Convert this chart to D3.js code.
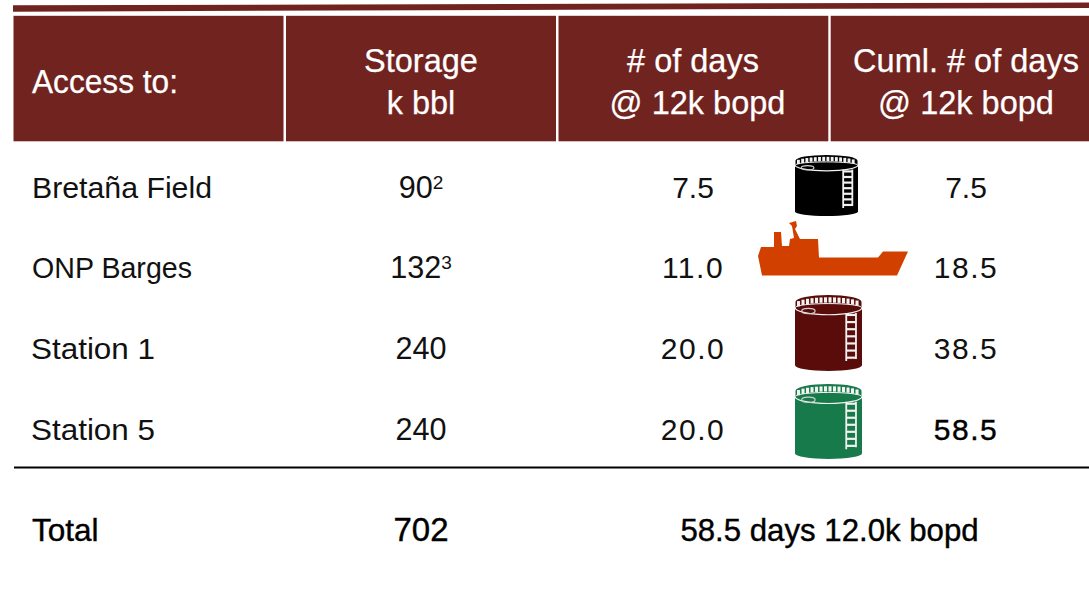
<!DOCTYPE html>
<html><head><meta charset="utf-8">
<script src="https://cdn.jsdelivr.net/npm/d3@7"></script>
<style>html,body{margin:0;background:#fff}svg{display:block}text{font-family:"Liberation Sans",sans-serif}</style>
</head><body><svg id="c" width="1089" height="589"></svg>
<script>
const headers = [["Access to:"],["Storage","k bbl"],["# of days","@ 12k bopd"],["Cuml. # of days","@ 12k bopd"]];
const fields = ["Bretaña Field","ONP Barges","Station 1","Station 5"];
const storage = [90,132,240,240];
const storageNotes = ["2","3","",""];
const days = ["7.5","11.0","20.0","20.0"];
const cumulative = ["7.5","18.5","38.5","58.5"];
const icons = ["tank","ship","tank","tank"];
const iconColors = ["#000000","#d24000","#5a0c0a","#177a4a"];
const totalLabel = "Total", totalStorage = "702", totalNote = "58.5 days 12.0k bopd";

const MAROON = "#712320";
const svg = d3.select("#c");
const W = 1089;
const y = d3.scalePoint().domain(fields).range([188,430]);
const colCenter = [0,421,693,966];
const headEdges = [[13.5,283.5],[286,556],[558.5,828.3],[830.7,1089]];
const labelWidths = [180,160,124,124];
const labelX = [32,32,31,31];

// top bar, very slightly tilted as in the source slide
svg.append("path").attr("fill",MAROON).attr("d",`M13,5.3 L${W},2.5 L${W},8 L13,11.7 Z`);
// header cells
svg.selectAll("rect.h").data(headers).join("rect").attr("class","h")
  .attr("x",(d,i)=>headEdges[i][0]).attr("y",15.8)
  .attr("width",(d,i)=>headEdges[i][1]-headEdges[i][0]).attr("height",125.5).attr("fill",MAROON);
const HFS = 32.5;
headers.forEach((lines,i)=>{
  if(i===0){
    svg.append("text").attr("x",32).attr("y",93).attr("font-size",HFS).attr("fill","#fff").attr("stroke","#fff").attr("stroke-width",0.25)
      .attr("textLength",146).attr("lengthAdjust","spacingAndGlyphs").text(lines[0]);
  } else lines.forEach((t,j)=>{
    svg.append("text").attr("x",colCenter[i]+(i==2&&j==1?4.5:0)).attr("y",72+j*41.5).attr("text-anchor","middle")
      .attr("font-size",HFS).attr("fill","#fff").attr("stroke","#fff").attr("stroke-width",0.25).text(t);
  });
});
// rows
const rows = svg.selectAll("g.r").data(fields).join("g").attr("class","r").attr("transform",d=>`translate(0,${y(d)})`);
const FS = 30, TY = 9.5;
const spaced = s=>s.length>3?1.5:0;
rows.append("text").attr("x",(d,i)=>labelX[i]).attr("y",TY).attr("font-size",FS).attr("fill","#111")
  .attr("textLength",(d,i)=>labelWidths[i]).attr("lengthAdjust","spacingAndGlyphs").text(d=>d);
const st = rows.append("text").attr("x",colCenter[1]).attr("y",TY).attr("text-anchor","middle").attr("font-size",FS+0.6).attr("fill","#111");
st.append("tspan").text((d,i)=>storage[i]);
st.append("tspan").attr("dy",-9).attr("font-size",19).text((d,i)=>storageNotes[i]);
rows.append("text").attr("x",colCenter[2]).attr("y",TY).attr("text-anchor","middle").attr("font-size",FS).attr("letter-spacing",(d,i)=>spaced(days[i])).attr("fill","#111").text((d,i)=>days[i]);
rows.append("text").attr("x",colCenter[3]).attr("y",TY).attr("text-anchor","middle").attr("font-size",FS).attr("letter-spacing",(d,i)=>spaced(cumulative[i])).attr("fill",(d,i)=>i==3?"#000":"#111").attr("stroke",(d,i)=>i==3?"#000":"none").attr("stroke-width",0.4).text((d,i)=>cumulative[i]);

// icons
function drawTank(g,x0,y0,w,h,color){
  const rx=w/2, cx=x0+rx, top=y0+h*0.165, roofRy=h*0.095, botRy=h*0.075;
  const WHITE="#f2f2f2";
  g.append("path").attr("fill",color).attr("d",
    `M${x0},${top} L${x0},${y0+h-botRy} A${rx},${botRy} 0 0 0 ${x0+w},${y0+h-botRy} L${x0+w},${top} Z`);
  // railing band: arched strip above the roof
  g.append("path").attr("fill",color).attr("d",
    `M${x0+0.5},${y0+h*0.09} A${rx-0.5},${h*0.09} 0 0 1 ${x0+w-0.5},${y0+h*0.09} L${x0+w-0.5},${top} A${rx-0.5},${roofRy*0.7} 0 0 1 ${x0+0.5},${top} Z`);
  const railH=h*0.07;
  d3.range(0,14).forEach(i=>{
    const px=x0+2+i*(w-4)/14;
    const t=(px+1.5-cx)/rx, dy=h*0.09*(1-Math.sqrt(Math.max(0,1-t*t)));
    g.append("rect").attr("x",px).attr("y",y0+h*0.03+dy).attr("width",w/22).attr("height",railH).attr("fill",WHITE);
  });
  // roof: back edge and front edge
  g.append("path").attr("fill","none").attr("stroke",WHITE).attr("stroke-width",1.2)
    .attr("d",`M${x0},${top} A${rx},${roofRy} 0 0 0 ${x0+w},${top}`);
  g.append("path").attr("fill","none").attr("stroke",WHITE).attr("stroke-width",1)
    .attr("d",`M${x0+0.5},${top} A${rx-0.5},${roofRy*0.55} 0 0 1 ${x0+w-0.5},${top}`);
  // hatch
  g.append("ellipse").attr("cx",x0+w*0.2).attr("cy",top+h*0.045).attr("rx",w*0.1).attr("ry",h*0.035)
    .attr("fill","none").attr("stroke","#cfcfcf").attr("stroke-width",1.2);
  // ladder
  const lx=x0+w*0.765, lw=w*0.145, ly0=top+roofRy*0.75, ly1=y0+h*0.87;
  g.append("path").attr("stroke",WHITE).attr("stroke-width",1.8).attr("fill","none")
    .attr("d",`M${lx},${ly0} V${ly1} M${lx+lw},${ly0} V${ly1-2}`);
  d3.range(0,7).forEach(i=>{
    const yy=ly0+2+i*(ly1-ly0-4)/6.2;
    g.append("line").attr("x1",lx).attr("x2",lx+lw).attr("y1",yy).attr("y2",yy).attr("stroke",WHITE).attr("stroke-width",2.2);
  });
}
function drawShip(g,color){
  g.append("path").attr("fill",color).attr("d",
   "M758,256 L761,247 L774,247 L774,232 L781,232 L782,246 L789,246 L790,239 L794,238 L792,226 L789,223 L796,221 L797,226 L795,229 L797,233 L800,239 L818,239 L819,257.5 L878,257.5 L883,251.5 L908,251.5 L897,275.5 L762,275.5 Z");
}
const tankBoxes = [[795,155,63,61],[null],[795,295,67,76],[795,384,67,75]];
icons.forEach((k,i)=>{
  const g=svg.append("g");
  if(k==="tank"){const b=tankBoxes[i];drawTank(g,b[0],b[1],b[2],b[3],iconColors[i]);}
  else drawShip(g,iconColors[i]);
});

// rule
svg.append("line").attr("x1",14).attr("x2",W).attr("y1",467.5).attr("y2",467.5).attr("stroke","#000").attr("stroke-width",2);
// total
const tot=svg.append("g").attr("fill","#000").attr("stroke","#000").attr("stroke-width",0.4);
tot.append("text").attr("x",32).attr("y",541).attr("font-size",31.5).text(totalLabel);
tot.append("text").attr("x",colCenter[1]).attr("y",541).attr("font-size",33).attr("text-anchor","middle").text(totalStorage);
tot.append("text").attr("x",829.5).attr("y",541).attr("font-size",31.2).attr("text-anchor","middle").text(totalNote);
</script></body></html>
